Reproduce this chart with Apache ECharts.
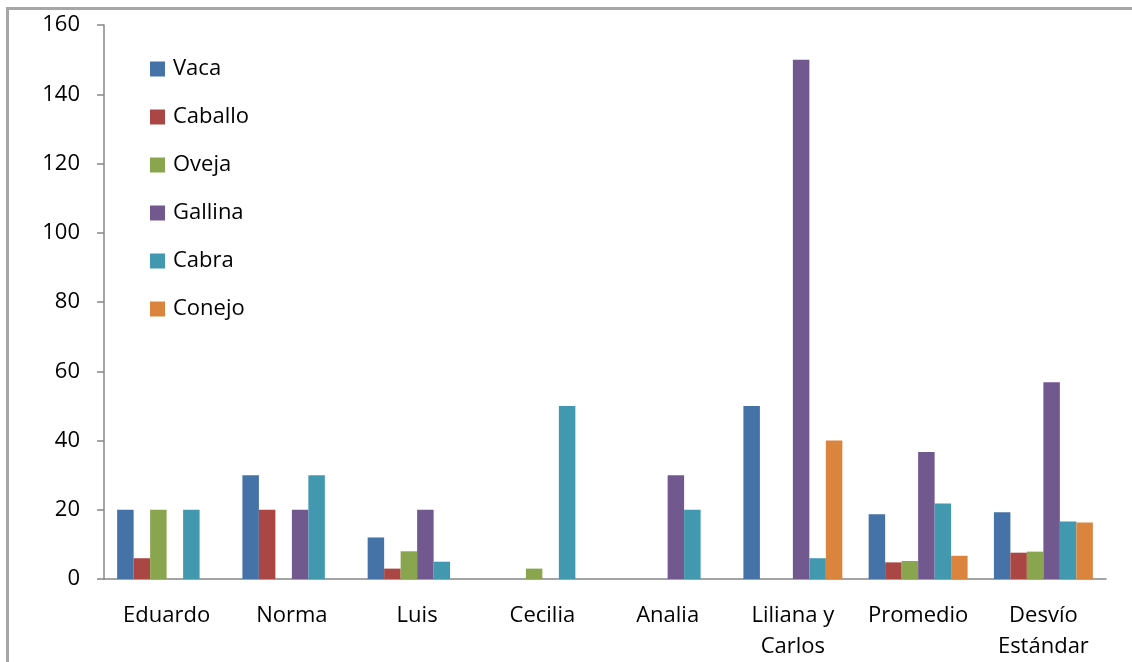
<!DOCTYPE html>
<html>
<head>
<meta charset="utf-8">
<title>Animales</title>
<script src="https://cdn.jsdelivr.net/npm/echarts@6/dist/echarts.min.js"></script>
<style>
body{margin:0;padding:0;background:#fff;}
#frame{position:absolute;left:6px;top:7px;width:1140px;height:670px;border-top:3px solid #a6a6a6;border-left:3px solid #a6a6a6;}
#chartmain{position:absolute;left:0;top:0;width:1132px;height:662px;}
</style>
</head>
<body>
<div id="frame"></div>
<div id="chartmain"></div>
<script type="text/javascript">
// categorias y valores
var personas = ['Eduardo','Norma','Luis','Cecilia','Analia','Liliana y\nCarlos','Promedio','Desvío\nEstándar'];
var vaca    = [20, 30, 12, 0, 0, 50, 18.7, 19.3];
var caballo = [6, 20, 3, 0, 0, 0, 4.8, 7.6];
var oveja   = [20, 0, 8, 3, 0, 0, 5.2, 7.9];
var gallina = [0, 20, 20, 0, 30, 150, 36.7, 56.8];
var cabra   = [20, 30, 5, 50, 20, 6, 21.8, 16.6];
var conejo  = [0, 0, 0, 0, 0, 40, 6.7, 16.3];
var yTicks  = [0, 20, 40, 60, 80, 100, 120, 140, 160];

var colores = ['#4572A7','#AA4643','#89A54E','#71588F','#4198AF','#DB843D'];

function serie(nombre, datos, i){
	return {
		name: nombre,
		type: 'bar',
		data: datos,
		barGap: '0%',
		barCategoryGap: '21%',
		itemStyle: {color: colores[i]}
	};
}

var fuente = '"Open Sans", sans-serif';
var myChart = echarts.init(document.getElementById('chartmain'), null, {renderer: 'canvas'});
myChart.setOption({
	animation: false,
	color: colores,
	grid: {left: 104, right: 26, top: 25, bottom: 83},
	legend: {
		orient: 'vertical',
		left: 150,
		top: 58,
		padding: 0,
		itemWidth: 15,
		itemHeight: 15,
		itemGap: 26,
		icon: 'rect',
		textStyle: {fontFamily: fuente, fontSize: 22, color: '#000', padding: [0, 0, 0, 3]},
		data: ['Vaca','Caballo','Oveja','Gallina','Cabra','Conejo']
	},
	xAxis: {
		type: 'category',
		data: personas,
		axisLine: {lineStyle: {color: '#868686', width: 1.5}},
		axisTick: {length: 10, lineStyle: {color: '#868686', width: 1.5}},
		axisLabel: {fontFamily: fuente, fontSize: 22, color: '#000', margin: 21, lineHeight: 31, interval: 0}
	},
	yAxis: {
		type: 'value',
		min: yTicks[0],
		max: yTicks[yTicks.length - 1],
		interval: 20,
		splitLine: {show: false},
		axisLine: {show: true, lineStyle: {color: '#868686', width: 1.5}},
		axisTick: {show: true, length: 7, lineStyle: {color: '#868686', width: 1.5}},
		axisLabel: {fontFamily: fuente, fontSize: 22, color: '#000', margin: 24}
	},
	series: [
		serie('Vaca', vaca, 0),
		serie('Caballo', caballo, 1),
		serie('Oveja', oveja, 2),
		serie('Gallina', gallina, 3),
		serie('Cabra', cabra, 4),
		serie('Conejo', conejo, 5)
	]
});
</script>
</body>
</html>
